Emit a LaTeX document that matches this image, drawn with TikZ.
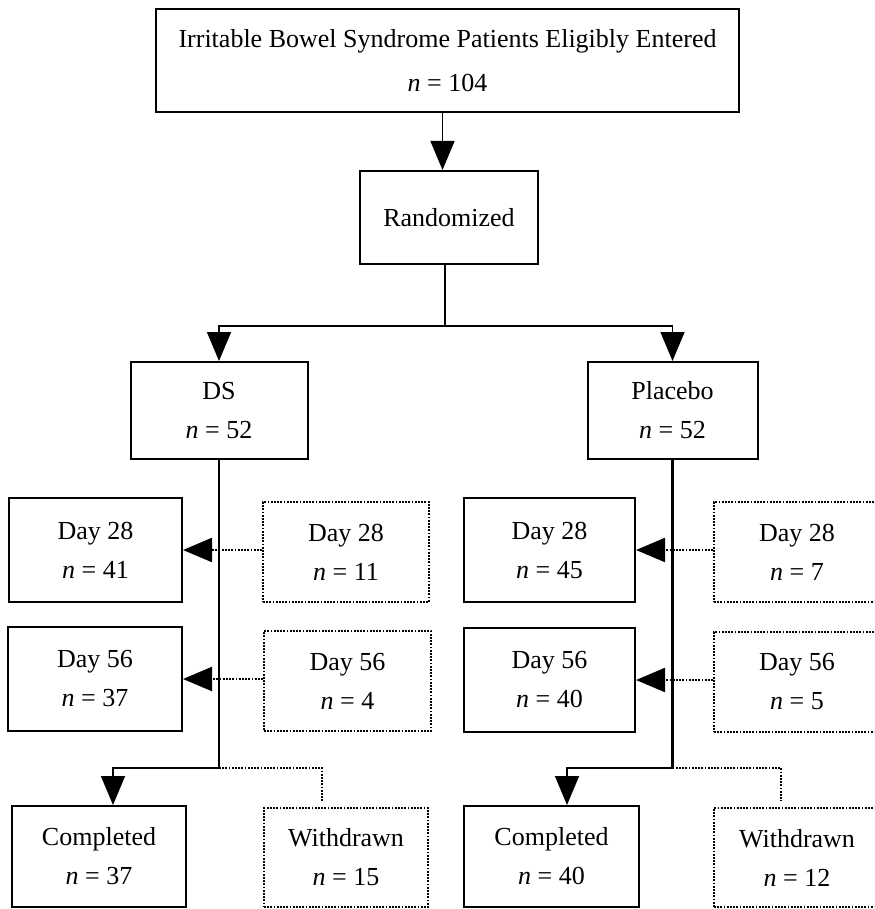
\documentclass[tikz,border=0pt]{standalone}
\usepackage{fontspec}
\setmainfont{Liberation Serif}
\usetikzlibrary{arrows.meta}

\tikzset{
  box/.style={draw, line width=1pt, inner sep=0pt, align=center,
    minimum height=52pt, font=\fontsize{13}{19.5}\selectfont},
  lostbox/.style={box, line width=1.1pt, dash pattern=on 0.9pt off 0.7pt, minimum height=50pt},
  thinline/.style={line width=0.75pt},
  trunk/.style={line width=1.2pt},
  dotline/.style={line width=1.1pt, dash pattern=on 0.9pt off 0.7pt},
  arr/.style={-{Triangle[length=14.5pt,width=12pt]}}
}

\begin{document}
\begin{tikzpicture}[x=0.5pt,y=-0.5pt]
            \useasboundingbox (0,0) rectangle (874,909);
            \clip (0,0) rectangle (874,909);
            % top of the chart
            \node[box, minimum width=291.5pt, minimum height=51.5pt] (entered) at (447.5,60.5) {Irritable Bowel Syndrome Patients Eligibly Entered\\[2.5pt]\textit{n} = 104};
            \node[box, minimum width=89pt, minimum height=46.5pt] (rand) at (449,217.5) {Randomized};
            \node[box, minimum width=88.5pt, minimum height=48.5pt] (ds) at (219,410.5) {DS\\\textit{n} = 52};
            \node[box, minimum width=85pt, minimum height=48.5pt] (pl) at (672.5,410.5) {Placebo\\\textit{n} = 52};
            % DS arm
            \node[box, minimum width=86.5pt] (ds28) at (95.5,550) {Day 28\\\textit{n} = 41};
            \node[lostbox, minimum width=83pt] (ds28w) at (346,552) {Day 28\\\textit{n} = 11};
            \node[box, minimum width=87pt] (ds56) at (95,679) {Day 56\\\textit{n} = 37};
            \node[lostbox, minimum width=83.5pt] (ds56w) at (347.5,681) {Day 56\\\textit{n} = 4};
            \node[box, minimum width=87pt, minimum height=50.5pt] (dscomp) at (99,856.5) {Completed\\\textit{n} = 37};
            \node[lostbox, minimum width=82pt, minimum height=49.5pt] (dswd) at (346,857.5) {Withdrawn\\\textit{n} = 15};
            % placebo arm
            \node[box, minimum width=85.5pt] (pl28) at (549.5,550) {Day 28\\\textit{n} = 45};
            \node[lostbox, minimum width=83pt] (pl28w) at (797,552) {Day 28\\\textit{n} = 7};
            \node[box, minimum width=85.5pt] (pl56) at (549.5,680) {Day 56\\\textit{n} = 40};
            \node[lostbox, minimum width=83pt] (pl56w) at (797,682) {Day 56\\\textit{n} = 5};
            \node[box, minimum width=87.5pt, minimum height=50.5pt] (plcomp) at (551.5,856.5) {Completed\\\textit{n} = 40};
            \node[lostbox, minimum width=83pt, minimum height=49.5pt] (plwd) at (797,857.5) {Withdrawn\\\textit{n} = 12};
            % connectors
            \draw[thinline, arr] ([xshift=-2.5pt]entered.south) -- ([xshift=-2.5pt]entered.south |- rand.north);
            \path ([xshift=-2pt]rand.south) ++(0,61) coordinate (split);
            \draw[thinline] ([xshift=-2pt]rand.south) -- (split);
            \draw[thinline, arr] (split) -| (ds.north);
            \draw[thinline, arr] (split) -| (pl.north);
            \path (ds.south) ++(0,308) coordinate (dsfork);
            \path (pl.south) ++(0,308) coordinate (plfork);
            \draw[trunk] (ds.south) -- (dsfork);
            \draw[trunk] (pl.south) -- (plfork);
            \draw[dotline, arr] (ds28w.west |- ds28.east) -- (ds28.east);
            \draw[dotline, arr] (ds56w.west |- ds56.east) -- (ds56.east);
            \draw[dotline, arr] (pl28w.west |- pl28.east) -- (pl28.east);
            \draw[dotline, arr] (pl56w.west |- pl56.east) -- (pl56.east);
            \draw[thinline, arr] (dsfork) -| ([xshift=7pt]dscomp.north);
            \draw[thinline, arr] (plfork) -| ([xshift=7.75pt]plcomp.north);
            \draw[dotline, shorten >=3pt] (dsfork) -| ([xshift=-12pt]dswd.north);
            \draw[dotline, shorten >=3pt] (plfork) -| ([xshift=-8pt]plwd.north);
        \end{tikzpicture}
\end{document}
